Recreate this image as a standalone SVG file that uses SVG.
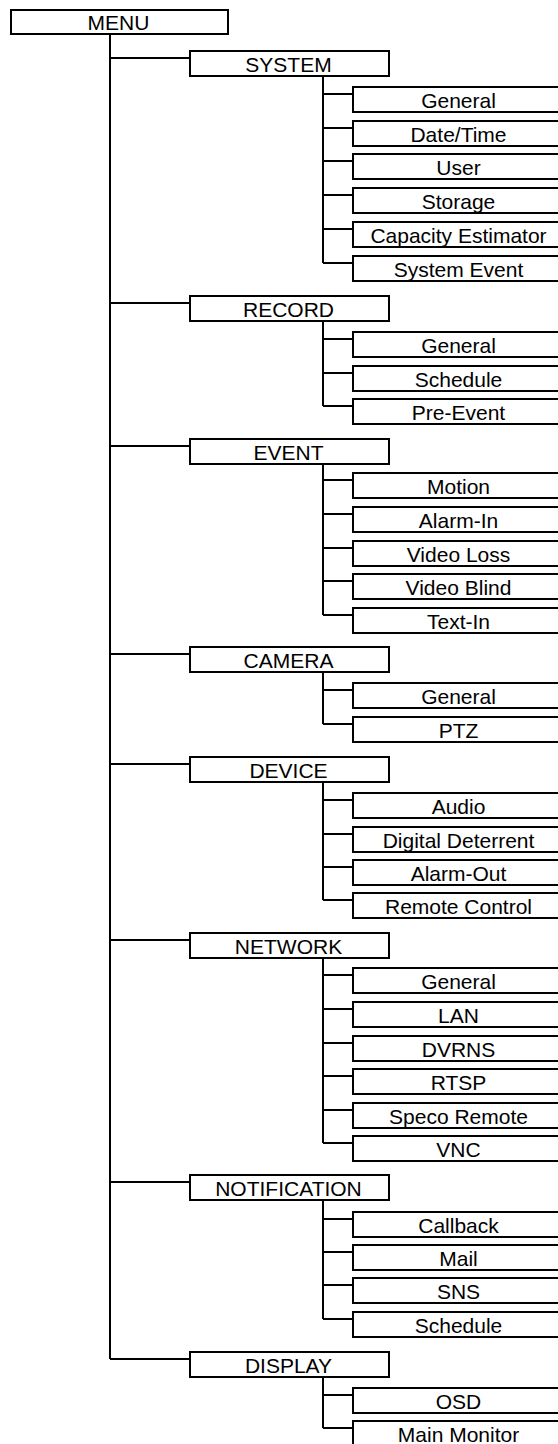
<svg xmlns="http://www.w3.org/2000/svg" width="558" height="1444" viewBox="0 0 558 1444">
<style>
.box{fill:#fff;stroke:#000;stroke-width:2}
.ln{fill:none;stroke:#000;stroke-width:2}
text{font-family:"Liberation Sans",Arial,sans-serif;font-size:21px;fill:#000;text-anchor:middle}
</style>
<rect width="558" height="1444" fill="#fff"/>
<g id="connectors" class="ln">
<path d="M110 34V1359"/>
<path d="M110 58H190M110 303H190M110 446H190M110 654H190M110 764H190M110 940H190M110 1182H190M110 1359H190"/>
<path d="M323 76V263M323 94H353M323 128H353M323 161H353M323 195H353M323 229H353M323 263H353"/>
<path d="M323 321V406M323 339H353M323 373H353M323 406H353"/>
<path d="M323 464V615M323 480H353M323 514H353M323 548H353M323 581H353M323 615H353"/>
<path d="M323 672V724M323 690H353M323 724H353"/>
<path d="M323 782V900M323 800H353M323 834H353M323 867H353M323 900H353"/>
<path d="M323 958V1143M323 975H353M323 1009H353M323 1043H353M323 1076H353M323 1110H353M323 1143H353"/>
<path d="M323 1200V1319M323 1219H353M323 1252H353M323 1285H353M323 1319H353"/>
<path d="M323 1377V1428M323 1395H353M323 1428H353"/>
</g>
<g id="menu"><rect class="box" x="11" y="10" width="217" height="24"/><text x="118.5" y="30">MENU</text></g>
<g id="system"><rect class="box" x="190" y="51" width="199" height="25"/><text x="288.5" y="71.5">SYSTEM</text></g>
<g id="sys-general"><rect class="box" x="353" y="87" width="260" height="25"/><text x="458.5" y="107.5">General</text></g>
<g id="sys-datetime"><rect class="box" x="353" y="121" width="260" height="25"/><text x="458.5" y="141.5">Date/Time</text></g>
<g id="sys-user"><rect class="box" x="353" y="154" width="260" height="25"/><text x="458.5" y="174.5">User</text></g>
<g id="sys-storage"><rect class="box" x="353" y="188" width="260" height="25"/><text x="458.5" y="208.5">Storage</text></g>
<g id="sys-capacity"><rect class="box" x="353" y="222" width="260" height="25"/><text x="458.5" y="242.5">Capacity Estimator</text></g>
<g id="sys-event"><rect class="box" x="353" y="256" width="260" height="25"/><text x="458.5" y="276.5">System Event</text></g>
<g id="record"><rect class="box" x="190" y="296" width="199" height="25"/><text x="288.5" y="316.5">RECORD</text></g>
<g id="rec-general"><rect class="box" x="353" y="332" width="260" height="25"/><text x="458.5" y="352.5">General</text></g>
<g id="rec-schedule"><rect class="box" x="353" y="366" width="260" height="25"/><text x="458.5" y="386.5">Schedule</text></g>
<g id="rec-preevent"><rect class="box" x="353" y="399" width="260" height="25"/><text x="458.5" y="419.5">Pre-Event</text></g>
<g id="event"><rect class="box" x="190" y="439" width="199" height="25"/><text x="288.5" y="459.5">EVENT</text></g>
<g id="ev-motion"><rect class="box" x="353" y="473" width="260" height="25"/><text x="458.5" y="493.5">Motion</text></g>
<g id="ev-alarmin"><rect class="box" x="353" y="507" width="260" height="25"/><text x="458.5" y="527.5">Alarm-In</text></g>
<g id="ev-videoloss"><rect class="box" x="353" y="541" width="260" height="25"/><text x="458.5" y="561.5">Video Loss</text></g>
<g id="ev-videoblind"><rect class="box" x="353" y="574" width="260" height="25"/><text x="458.5" y="594.5">Video Blind</text></g>
<g id="ev-textin"><rect class="box" x="353" y="608" width="260" height="25"/><text x="458.5" y="628.5">Text-In</text></g>
<g id="camera"><rect class="box" x="190" y="647" width="199" height="25"/><text x="288.5" y="667.5">CAMERA</text></g>
<g id="cam-general"><rect class="box" x="353" y="683" width="260" height="25"/><text x="458.5" y="703.5">General</text></g>
<g id="cam-ptz"><rect class="box" x="353" y="717" width="260" height="25"/><text x="458.5" y="737.5">PTZ</text></g>
<g id="device"><rect class="box" x="190" y="757" width="199" height="25"/><text x="288.5" y="777.5">DEVICE</text></g>
<g id="dev-audio"><rect class="box" x="353" y="793" width="260" height="25"/><text x="458.5" y="813.5">Audio</text></g>
<g id="dev-deterrent"><rect class="box" x="353" y="827" width="260" height="25"/><text x="458.5" y="847.5">Digital Deterrent</text></g>
<g id="dev-alarmout"><rect class="box" x="353" y="860" width="260" height="25"/><text x="458.5" y="880.5">Alarm-Out</text></g>
<g id="dev-remote"><rect class="box" x="353" y="893" width="260" height="25"/><text x="458.5" y="913.5">Remote Control</text></g>
<g id="network"><rect class="box" x="190" y="933" width="199" height="25"/><text x="288.5" y="953.5">NETWORK</text></g>
<g id="net-general"><rect class="box" x="353" y="968" width="260" height="25"/><text x="458.5" y="988.5">General</text></g>
<g id="net-lan"><rect class="box" x="353" y="1002" width="260" height="25"/><text x="458.5" y="1022.5">LAN</text></g>
<g id="net-dvrns"><rect class="box" x="353" y="1036" width="260" height="25"/><text x="458.5" y="1056.5">DVRNS</text></g>
<g id="net-rtsp"><rect class="box" x="353" y="1069" width="260" height="25"/><text x="458.5" y="1089.5">RTSP</text></g>
<g id="net-speco"><rect class="box" x="353" y="1103" width="260" height="25"/><text x="458.5" y="1123.5">Speco Remote</text></g>
<g id="net-vnc"><rect class="box" x="353" y="1136" width="260" height="25"/><text x="458.5" y="1156.5">VNC</text></g>
<g id="notification"><rect class="box" x="190" y="1175" width="199" height="25"/><text x="288.5" y="1195.5">NOTIFICATION</text></g>
<g id="not-callback"><rect class="box" x="353" y="1212" width="260" height="25"/><text x="458.5" y="1232.5">Callback</text></g>
<g id="not-mail"><rect class="box" x="353" y="1245" width="260" height="25"/><text x="458.5" y="1265.5">Mail</text></g>
<g id="not-sns"><rect class="box" x="353" y="1278" width="260" height="25"/><text x="458.5" y="1298.5">SNS</text></g>
<g id="not-schedule"><rect class="box" x="353" y="1312" width="260" height="25"/><text x="458.5" y="1332.5">Schedule</text></g>
<g id="display"><rect class="box" x="190" y="1352" width="199" height="25"/><text x="288.5" y="1372.5">DISPLAY</text></g>
<g id="dis-osd"><rect class="box" x="353" y="1388" width="260" height="25"/><text x="458.5" y="1408.5">OSD</text></g>
<g id="dis-monitor"><rect class="box" x="353" y="1421" width="260" height="25"/><text x="458.5" y="1441.5">Main Monitor</text></g>
</svg>
